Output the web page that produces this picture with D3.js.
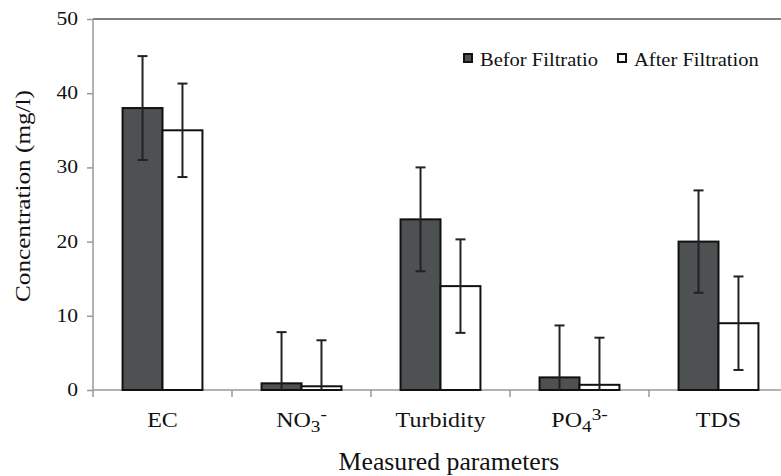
<!DOCTYPE html>
<html>
<head>
<meta charset="utf-8">
<script src="https://cdn.jsdelivr.net/npm/d3@7"></script>
<style>
  body { margin: 0; background: #fff; }
  text { font-family: "Liberation Serif", "Times New Roman", serif; fill: #111; }
</style>
</head>
<body>
<div id="chart"></div>
<script>
// chart values
var categories = ["EC", "NO3", "Turbidity", "PO4", "TDS"];
var series = ["Befor Filtratio", "After Filtration"];
var before = [38, 0.9, 23, 1.7, 20];
var after = [35, 0.5, 14, 0.7, 9];
var beforeErr = [7, 6.9, 7, 7, 6.9];
var afterErr = [6.3, 6.2, 6.3, 6.35, 6.3];
var yTicks = [0, 10, 20, 30, 40, 50];

var width = 781, height = 476;
var plot = {left: 93, right: 788, top: 19, bottom: 390};

var svg = d3.select('#chart')
    .append('svg')
    .attr('width', width)
    .attr('height', height);

var x = d3.scaleBand()
    .domain(categories)
    .range([plot.left, plot.right])
    .padding(0);

var xs = d3.scaleBand()
    .domain(series)
    .range([0, x.bandwidth()])
    .paddingInner(0)
    .paddingOuter(0.74);

var y = d3.scaleLinear()
    .domain([0, 50])
    .range([plot.bottom, plot.top]);

// stretched text helper (source font renders wider than Liberation Serif)
function label(g, px, py, str, size, sx, anchor) {
  var t = g.append("g").attr("transform", "translate(" + px + "," + py + ")")
    .append("text")
      .attr("transform", "scale(" + sx + ",1)")
      .attr("text-anchor", anchor || "middle")
      .style("font-size", size + "px");
  if (str) t.text(str);
  return t;
}

// top border of the plot area
svg.append("line")
    .attr("x1", plot.left).attr("x2", plot.right)
    .attr("y1", plot.top).attr("y2", plot.top)
    .style("stroke", "#555")
    .style("stroke-width", 1.5);

// y axis
var yAxis = svg.append("g")
    .attr("transform", "translate(" + plot.left + ",0)")
    .call(d3.axisLeft(y).tickValues(yTicks).tickSize(6).tickFormat(""));
yAxis.select(".domain").remove();
yAxis.selectAll(".tick line").style("stroke", "#999").style("stroke-width", 1.5);
svg.append("line")
    .attr("x1", plot.left).attr("x2", plot.left)
    .attr("y1", plot.top).attr("y2", plot.bottom + 7)
    .style("stroke", "#999")
    .style("stroke-width", 1.5);

yTicks.forEach(function(v) {
  label(svg, 78, y(v) + 6, d3.format("d")(v), 18, 1.2, "end");
});

// x axis
svg.append("line")
    .attr("x1", plot.left).attr("x2", plot.right)
    .attr("y1", plot.bottom).attr("y2", plot.bottom)
    .style("stroke", "#999")
    .style("stroke-width", 1.5);
svg.selectAll(".xtick")
    .data(categories.slice(1))
  .enter().append("line")
    .attr("class", "xtick")
    .attr("x1", function(d) { return x(d); })
    .attr("x2", function(d) { return x(d); })
    .attr("y1", plot.bottom)
    .attr("y2", plot.bottom + 7)
    .style("stroke", "#999")
    .style("stroke-width", 1.5);

// category labels with chemical sub/superscripts
var catLabels = {
  "EC": [["EC", null]],
  "NO3": [["NO", null], ["3", "sub"], ["-", "sup"]],
  "Turbidity": [["Turbidity", null]],
  "PO4": [["PO", null], ["4", "sub"], ["3-", "sup"]],
  "TDS": [["TDS", null]]
};
categories.forEach(function(c) {
  var t = label(svg, x(c) + x.bandwidth() / 2, 427, null, 20, 1.2, "middle");
  catLabels[c].forEach(function(part) {
    var ts = t.append("tspan").text(part[0]);
    if (part[1] === "sub") ts.attr("dy", 5).style("font-size", "16px");
    if (part[1] === "sup") ts.attr("dy", -12).style("font-size", "16px");
  });
});

// bars
var valueSets = [before, after];
var errSets = [beforeErr, afterErr];
var fills = ["#4d5152", "#ffffff"];

series.forEach(function(s, si) {
  var g = svg.append("g").attr("class", "series-" + si);
  g.selectAll("rect")
      .data(categories)
    .enter().append("rect")
      .attr("x", function(d) { return x(d) + xs(s); })
      .attr("y", function(d, i) { return y(valueSets[si][i]); })
      .attr("width", xs.bandwidth())
      .attr("height", function(d, i) { return plot.bottom - y(valueSets[si][i]); })
      .style("fill", fills[si])
      .style("stroke", "#111")
      .style("stroke-width", 2);

  // error bars (clipped at the axis)
  categories.forEach(function(d, i) {
    var cx = x(d) + xs(s) + xs.bandwidth() / 2;
    var v = valueSets[si][i], e = errSets[si][i];
    var hi = y(v + e), lo = y(Math.max(0, v - e));
    g.append("line")
        .attr("x1", cx).attr("x2", cx)
        .attr("y1", hi).attr("y2", lo)
        .style("stroke", "#222").style("stroke-width", 2);
    g.append("line")
        .attr("x1", cx - 5).attr("x2", cx + 5)
        .attr("y1", hi).attr("y2", hi)
        .style("stroke", "#222").style("stroke-width", 2);
    if (v - e > 0) {
      g.append("line")
          .attr("x1", cx - 5).attr("x2", cx + 5)
          .attr("y1", lo).attr("y2", lo)
          .style("stroke", "#222").style("stroke-width", 2);
    }
  });
});

// legend
var legend = svg.append("g").attr("class", "legend");
var legendX = [463, 617];
series.forEach(function(s, si) {
  legend.append("rect")
      .attr("x", legendX[si] + 1)
      .attr("y", 54)
      .attr("width", 8)
      .attr("height", 8)
      .style("fill", fills[si])
      .style("stroke", "#111")
      .style("stroke-width", 2);
  label(legend, legendX[si] + 17, 66, s, 19, 1.08, "start");
});

// axis titles
var yt = svg.append("g").attr("transform", "translate(30,196) rotate(-90)");
label(yt, 0, 0, "Concentration (mg/l)", 21, 1.2, "middle");
label(svg, 449, 470, "Measured parameters", 25, 1.03, "middle");
</script>
</body>
</html>
